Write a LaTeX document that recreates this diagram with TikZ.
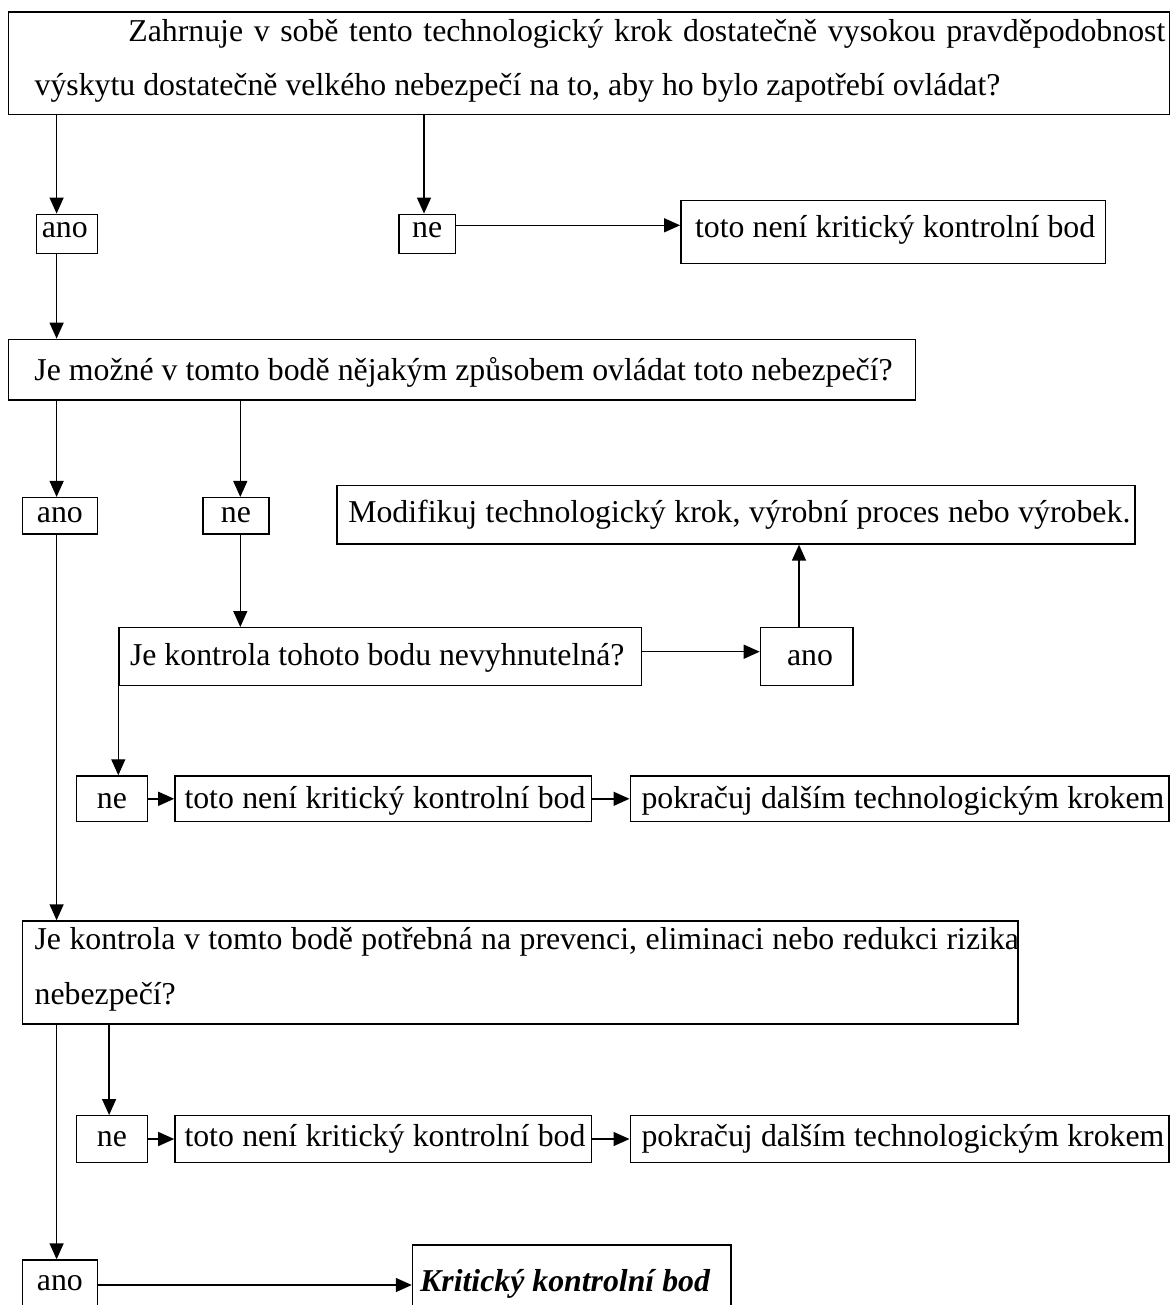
\documentclass[tikz,border=0pt]{standalone}
\usepackage{fontspec}
\setmainfont{Liberation Serif}
\usetikzlibrary{arrows.meta}
\newcommand{\sw}[2]{\makebox[#1pt][s]{#2}}
\begin{document}
\begin{tikzpicture}[x=1pt,y=-1pt,
  font=\fontsize{31.8}{38}\selectfont,
  boxn/.style={draw, line width=1.4pt, inner sep=0pt, text depth=0pt},
  arr/.style={line width=1.4pt, -{Triangle[length=16pt,width=14pt]}},
  txt/.style={inner sep=0pt, anchor=base west}]
\useasboundingbox (0,0) rectangle (1172,1305);
\clip (0,0) rectangle (1172,1305);
% columns / rows
\coordinate (xA) at (56.6,0);
\coordinate (xB) at (424,0);
\coordinate (xC) at (240.3,0);
\coordinate (xD) at (799,0);
\coordinate (xE) at (109.1,0);
\coordinate (yA) at (0,225.3);
\coordinate (yB) at (0,651.7);
\coordinate (yC) at (0,1285);
% boxes
\node[boxn, minimum width=1161.3pt, minimum height=102.3pt] (b1) at (589.05,63.15) {};
\node[txt] (t1a) at (128.2,41.7) {\sw{1036.9}{Zahrnuje v sobě tento technologický krok dostatečně vysokou pravděpodobnost}};
\node[txt] (t1b) at (34.4,95.5) {\sw{965.8}{výskytu dostatečně velkého nebezpečí na to, aby ho bylo zapotřebí ovládat?}};
\node[boxn, minimum width=60.8pt, minimum height=39pt, text height=8.4pt] (ano1) at (66.8,233.8) {ano\hspace*{4pt}};
\node[boxn, minimum width=56.6pt, minimum height=39pt, text height=8pt] (ne1) at (427.1,233.8) {ne};
\node[boxn, minimum width=424.7pt, minimum height=62.6pt, text height=11pt] (toto1) at (893.15,232) {\hspace*{4pt}\sw{400.2}{toto není kritický kontrolní bod}};
\node[boxn, minimum width=906.8pt, minimum height=60.7pt, text height=20.6pt] (b2) at (461.8,369.7) {\hspace*{3.4pt}\sw{858.2}{Je možné v tomto bodě nějakým způsobem ovládat toto nebezpečí?}};
\node[boxn, minimum width=74.6pt, minimum height=36.3pt, text height=13.8pt] (ano2) at (59.9,515.8) {ano};
\node[boxn, minimum width=66.2pt, minimum height=36.3pt, text height=13.8pt] (ne2) at (235.9,515.8) {ne};
\node[boxn, minimum width=798.1pt, minimum height=58.3pt, text height=15.8pt] (mod) at (735.85,514.8) {\hspace*{7pt}\sw{782.1}{Modifikuj technologický krok, výrobní proces nebo výrobek.}};
\node[boxn, minimum width=522.2pt, minimum height=58pt, text height=16.6pt] (k3) at (380.1,656.7) {\sw{494.4}{Je kontrola tohoto bodu nevyhnutelná?}\hspace*{5.6pt}};
\node[boxn, minimum width=92.5pt, minimum height=58pt, text height=16.6pt] (ano3) at (806.65,656.7) {\hspace*{6.6pt}ano};
\node[boxn, minimum width=70.8pt, minimum height=45.7pt, text height=18.4pt] (ne4) at (111.9,798.8) {ne};
\node[boxn, minimum width=416.4pt, minimum height=45.7pt, text height=18.4pt] (toto4) at (383.1,798.8) {\hspace*{3.8pt}\sw{401}{toto není kritický kontrolní bod}};
\node[boxn, minimum width=538.7pt, minimum height=45.7pt, text height=18.4pt] (pok4) at (899.55,798.8) {\hspace*{6.8pt}\sw{522.9}{pokračuj dalším technologickým krokem}};
\node[boxn, minimum width=995.3pt, minimum height=103pt] (b4) at (520.25,972.5) {};
\node[txt] (t4a) at (34.4,949) {\sw{984.3}{Je kontrola v tomto bodě potřebná na prevenci, eliminaci nebo redukci rizika}};
\node[txt] (t4b) at (34.4,1004) {nebezpečí?};
\node[boxn, minimum width=70.8pt, minimum height=46.6pt, text height=15.4pt] (ne5) at (111.9,1139) {ne};
\node[boxn, minimum width=416.4pt, minimum height=46.6pt, text height=15.4pt] (toto5) at (383.1,1139) {\hspace*{3.8pt}\sw{401}{toto není kritický kontrolní bod}};
\node[boxn, minimum width=538.7pt, minimum height=46.6pt, text height=15.4pt] (pok5) at (899.55,1139) {\hspace*{6.8pt}\sw{522.9}{pokračuj dalším technologickým krokem}};
\node[boxn, minimum width=74.6pt, minimum height=70pt, text height=0pt, text depth=10pt] (ano5) at (59.9,1295) {ano};
\node[boxn, minimum width=318.5pt, minimum height=90pt, text height=3.4pt] (krit) at (571.75,1290) {\textbf{\textit{Kritický kontrolní bod}}\hspace*{13pt}};
% connectors
\draw[arr] (b1.south -| xA) -- (ano1.north -| xA);
\draw[arr] (b1.south -| xB) -- (ne1.north -| xB);
\draw[arr] (ne1.east |- yA) -- (toto1.west |- yA);
\draw[arr] (ano1.south -| xA) -- (b2.north -| xA);
\draw[arr] (b2.south -| xA) -- (ano2.north -| xA);
\draw[arr] (b2.south -| xC) -- (ne2.north -| xC);
\draw[arr] (ne2.south -| xC) -- (k3.north -| xC);
\draw[arr] (k3.east |- yB) -- (ano3.west |- yB);
\draw[arr] (ano3.north -| xD) -- (mod.south -| xD);
\draw[arr] (k3.south west) -- (ne4.north -| k3.south west);
\draw[arr] (ne4.east) -- (toto4.west);
\draw[arr] (toto4.east) -- (pok4.west);
\draw[arr] (ano2.south -| xA) -- (b4.north -| xA);
\draw[arr] (b4.south -| xE) -- (ne5.north -| xE);
\draw[arr] (ne5.east) -- (toto5.west);
\draw[arr] (toto5.east) -- (pok5.west);
\draw[arr] (b4.south -| xA) -- (ano5.north -| xA);
\draw[arr] (ano5.east |- yC) -- (krit.west |- yC);
\end{tikzpicture}
\end{document}
